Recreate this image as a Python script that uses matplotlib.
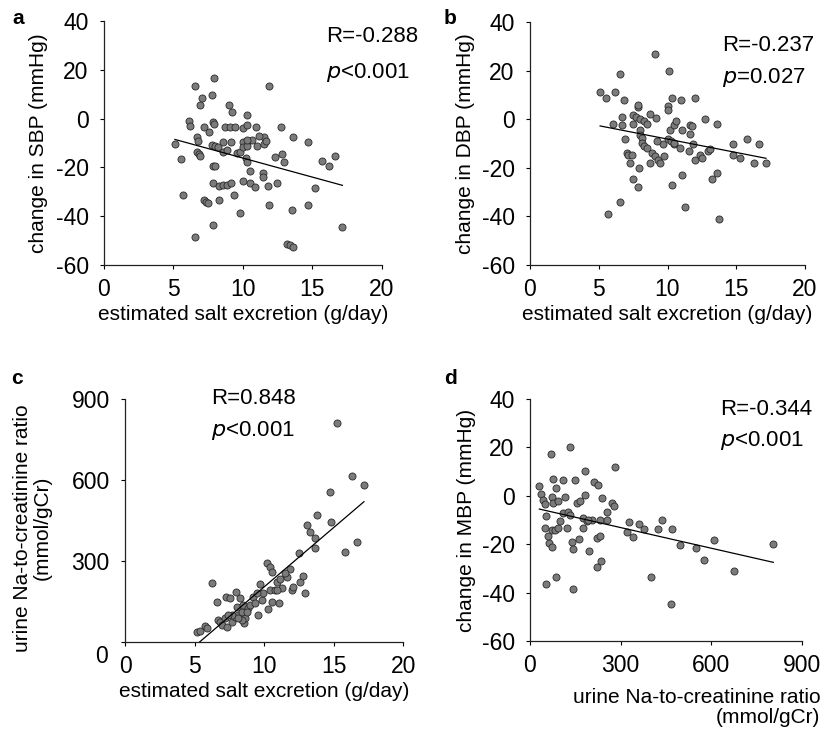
import matplotlib.pyplot as plt
import matplotlib.transforms as mtransforms
import numpy as np

plt.rcParams['font.family'] = ['Liberation Sans', 'DejaVu Sans']
plt.rcParams['axes.unicode_minus'] = False

# panel a: estimated salt excretion (g/day) vs change in SBP
salt_a = [5.11, 5.52, 5.71, 6.58, 6.1, 6.2, 6.91, 7.08, 6.72, 6.8, 6.72, 6.58, 6.87, 6.89,
          7.23, 7.56, 7.76, 7.92, 7.87, 7.95, 7.76, 8.0, 8.24, 8.6, 8.55, 7.82, 8.0, 7.17,
          7.34, 7.46, 8.28, 7.88, 7.88, 8.3, 8.6, 8.88, 9.17, 8.69, 9.08, 9.44, 9.03, 9.2,
          9.17, 9.56, 9.8, 9.39, 9.78, 10.04, 10.28, 10.28, 10.2, 10.28, 10.04, 10.4, 10.64,
          10.04, 10.28, 10.52, 10.04, 10.52, 10.88, 10.95, 11.0, 11.5, 11.55, 11.67, 11.43,
          11.48, 11.79, 11.86, 11.91, 12.32, 12.8, 12.99, 12.48, 12.73, 13.59, 13.2, 13.4,
          13.64, 13.52, 14.72, 14.72, 15.2, 15.73, 16.2, 16.64, 17.17, 8.83, 10.28, 11.19]
sbp_a = [-10.4, -16.4, -31.3, 13.5, -1.1, -3.0, 5.4, 8.6, -7.4, -9.0, -13.6, -48.4, -14.5, -15.2,
         -3.3, -5.5, 9.5, 16.5, -1.3, -2.2, -10.8, -11.2, -11.5, -9.5, -13.6, -19.4, -19.4, -33.4,
         -34.2, -34.7, -33.4, -43.5, -26.5, -27.5, -27.3, -27.1, -26.5, -3.3, -3.3, -3.3, 5.7, 2.6,
         -9.5, -14.0, -13.6, -31.4, -38.6, -4.0, -2.6, 1.5, -16.3, -17.7, -9.5, -9.2, -8.8,
         -11.8, -11.2, -21.5, -25.6, -26.3, -27.9, -3.3, -11.2, -10.5, -7.4, -9.2, -22.4,
         -23.8, -27.5, 13.4, -35.4, -15.6, -14.5, -17.7, -26.5, -3.3, -7.4, -51.5, -52.0,
         -52.5, -37.5, -35.4, -9.6, -28.6, -17.4, -19.4, -15.3, -44.6, -12.9, -8.6, -7.1]

# panel b: estimated salt excretion (g/day) vs change in DBP
salt_b = [5.1, 5.53, 6.19, 6.55, 6.84, 6.07, 6.7, 6.68, 6.89, 7.04, 7.16, 7.28, 7.4, 7.52,
          7.84, 7.91, 6.55, 5.7, 7.48, 7.72, 7.82, 7.89, 8.01, 8.3, 8.5, 7.48, 8.0, 8.0, 8.18,
          8.13, 8.3, 8.5, 8.74, 9.17, 8.74, 8.86, 9.1, 9.34, 9.47, 9.78, 9.08, 9.66, 10.02,
          10.0, 10.12, 10.32, 10.95, 12.03, 10.32, 11.07, 11.29, 10.07, 10.24, 10.44, 10.19,
          10.44, 10.63, 10.92, 11.04, 11.53, 11.65, 11.77, 11.84, 11.65, 12.01, 12.38, 12.5,
          12.74, 12.91, 13.06, 13.25, 13.59, 13.59, 13.71, 14.76, 14.76, 15.24, 15.78, 16.26,
          16.63, 17.16, 9.22, 10.44]
dbp_b = [11.1, 8.9, 11.1, 18.8, 8.0, -1.9, 1.0, -2.2, -8.0, -13.9, -14.8, -18.0, -14.8, -24.5,
         -28.0, -20.1, -33.9, -38.9, 1.9, 0.8, 4.9, 6.0, -0.1, -0.8, -1.9, -1.8, -4.3, -6.3, -7.7,
         -9.8, -10.9, -11.8, 2.2, 0.5, -18.0, -14.1, -15.2, -16.6, -18.0, -15.2, 26.9, -10.2, 5.4,
         3.6, 19.8, 8.9, 8.1, 8.9, -26.9, -22.9, -36.0, -8.0, -9.1, -10.4, -4.3,
         -2.2, -0.8, -11.8, -4.3, -13.2, -2.2, -2.9, -10.2, -6.0, -16.8, -14.8, -15.9,
         0.1, -12.9, -12.1, -24.6, -1.9, -22.1, -41.1, -10.2, -14.8, -15.9, -8.0, -18.0,
         -10.2, -18.0, -9.1, -9.8]

# panel c: estimated salt excretion (g/day) vs urine Na-to-creatinine ratio
salt_c = [5.15, 5.39, 5.75, 5.92, 6.28, 6.59, 6.71, 6.83, 6.95, 7.19, 7.26, 7.31, 7.54, 7.66,
          7.9, 7.98, 8.02, 8.14, 8.26, 8.38, 8.5, 8.55, 8.62, 8.86, 8.98, 9.22, 9.34, 9.58, 9.7,
          9.82, 9.94, 10.18, 10.42, 10.54, 10.3, 10.54, 10.42, 10.78, 11.09, 10.9, 11.14, 11.26,
          11.62, 11.86, 11.98, 12.1, 12.5, 12.57, 12.81, 12.93, 13.1, 13.29, 13.65, 13.65,
          13.77, 14.73, 14.78, 15.26, 15.81, 16.29, 16.65, 17.17, 7.66, 8.38, 8.74, 9.46,
          10.9, 11.5, 7.43, 8.14]
nacr_c = [39, 42, 62, 52, 221, 148, 83, 74, 64, 89, 166, 58, 163, 76,
          95, 187, 132, 101, 163, 113, 138, 70, 89, 126, 138, 169, 144, 101, 215,
          157, 181, 292, 280, 261, 123, 150, 194, 194, 144, 224, 233, 200,
          243, 271, 194, 206, 329, 224, 247, 181, 434, 409, 385, 348,
          471, 555, 444, 813, 335, 617, 372, 582, 101, 83, 113, 181,
          194, 255, 101, 89]

# panel d: urine Na-to-creatinine ratio vs change in MBP
nacr_d = [31, 35, 42, 50, 52, 50, 63, 72, 53, 68, 75, 86, 72, 77, 85, 72, 83, 93, 101, 110,
          116, 110, 126, 132, 132, 141, 138, 143, 149, 155, 161, 166, 182, 183, 177, 174, 188,
          196, 212, 226, 221, 232, 221, 234, 207, 232, 254, 240, 254, 270, 278, 281, 328, 320,
          342, 362, 377, 400, 425, 438, 466, 472, 497, 550, 576, 609, 677, 806, 61, 121, 193, 94]
mbp_d = [4.1, 0.7, -1.7, -3.4, -8.3, -13.1, -19.6, -21.2, -36.4, 17.2, 7.0, 3.4, -0.3, -3.0,
         -33.7, -14.0, -14.3, -13.4, -10.6, -7.2, -0.3, 6.6, -6.5, -7.9, 20.0, -38.7, -18.9,
         -22.0, 6.6, -3.0, -17.9, -2.3, 0.4, 10.3, -9.2, -13.4, -10.6, -22.7, 5.9, 4.5, -17.5,
         -16.8, -29.6, -27.1, -9.9, -9.9, -9.9, -1.0, -6.5, -3.0, -4.4, 11.8, -11.0, -15.0,
         -17.1, -11.7, -13.6, -33.7, -13.6, -9.8, -44.8, -13.6, -20.2, -21.6, -26.7, -18.3,
         -31.0, -20.0, -16.8, -13.4, -9.9, -2.3]

stats_r = ['R=-0.288', 'R=-0.237', 'R=0.848', 'R=-0.344']
stats_p = [('<', '0.001'), ('=', '0.027'), ('<', '0.001'), ('<', '0.001')]

W, H = 823, 744
fig = plt.figure(figsize=(W / 100, H / 100), dpi=100)


def px_axes(x0, y0, x1, y1):
    # pixel box (left, top, right, bottom) -> figure axes
    return fig.add_axes([x0 / W, 1 - y1 / H, (x1 - x0) / W, (y1 - y0) / H])


def style(ax):
    for s in ['top', 'right']:
        ax.spines[s].set_visible(False)
    for s in ['left', 'bottom']:
        ax.spines[s].set_linewidth(0.9)
        ax.spines[s].set_color('#222222')
    ax.tick_params(direction='out', length=3, width=0.8, labelsize=16.5)
    ax.tick_params(axis='y', pad=8)
    ax.tick_params(axis='x', pad=6)


def scatter_fit(ax, x, y):
    x = np.asarray(x)
    y = np.asarray(y)
    ax.scatter(x, y, s=26, c='#7b7b7b', edgecolors='#2a2a2a', linewidths=0.6, zorder=3)
    k, b = np.polyfit(x, y, 1)
    xs = np.array([x.min(), x.max()])
    ax.plot(xs, k * xs + b, color='black', lw=0.9, zorder=4)


def stats(ax, i, x, y1, y2):
    ax.text(x, y1, stats_r[i], transform=ax.transAxes, fontsize=16, va='center')
    op, val = stats_p[i]
    ax.text(x, y2, r'$\it{p}$' + op + val, transform=ax.transAxes, fontsize=16, va='center')


label_kw = dict(fontsize=15)

# a
ax = px_axes(104, 21, 381.7, 265)
scatter_fit(ax, salt_a, sbp_a)
ax.set_xlim(0, 20)
ax.set_ylim(-60, 40)
ax.set_xticks([0, 5, 10, 15, 20])
ax.set_yticks([-60, -40, -20, 0, 20, 40])
style(ax)
ax.set_xlabel('estimated salt excretion (g/day)', labelpad=3, **label_kw)
ax.set_ylabel('change in SBP (mmHg)', **label_kw)
ax.yaxis.set_label_coords(-0.2, 0.5)
stats(ax, 0, 0.80, 0.935, 0.79)

# b
ax = px_axes(530, 22, 805, 265)
scatter_fit(ax, salt_b, dbp_b)
ax.set_xlim(0, 20)
ax.set_ylim(-60, 40)
ax.set_xticks([0, 5, 10, 15, 20])
ax.set_yticks([-60, -40, -20, 0, 20, 40])
style(ax)
ax.set_xlabel('estimated salt excretion (g/day)', labelpad=3, **label_kw)
ax.set_ylabel('change in DBP (mmHg)', **label_kw)
ax.yaxis.set_label_coords(-0.2, 0.5)
stats(ax, 1, 0.70, 0.905, 0.77)

# c
ax = px_axes(125, 399, 403.3, 642.3)
scatter_fit(ax, salt_c, nacr_c)
ax.set_xlim(0, 20)
ax.set_ylim(0, 900)
ax.set_xticks([0, 5, 10, 15, 20])
ax.set_yticks([0, 300, 600, 900])
style(ax)
# the y "0" sits a little below the axis corner, as in the original
ylab0 = ax.yaxis.get_major_ticks()[0].label1
ylab0.set_transform(ylab0.get_transform() +
                    mtransforms.ScaledTranslation(-2 / 100, -12 / 100, fig.dpi_scale_trans))
ax.set_xlabel('estimated salt excretion (g/day)', labelpad=3, **label_kw)
ax.set_ylabel('urine Na-to-creatinine ratio\n(mmol/gCr)', linespacing=1.0, **label_kw)
ax.yaxis.set_label_coords(-0.265, 0.47)
stats(ax, 2, 0.31, 1.0, 0.87)

# d
ax = px_axes(530, 399, 801.7, 641)
scatter_fit(ax, nacr_d, mbp_d)
ax.set_xlim(0, 900)
ax.set_ylim(-60, 40)
ax.set_xticks([0, 300, 600, 900])
ax.set_yticks([-60, -40, -20, 0, 20, 40])
style(ax)
ax.set_xlabel('urine Na-to-creatinine ratio\n(mmol/gCr)', ha='right', ma='right',
              linespacing=1.05, **label_kw)
ax.xaxis.set_label_coords(1.068, -0.195)
ax.set_ylabel('change in MBP (mmHg)', **label_kw)
ax.yaxis.set_label_coords(-0.2, 0.5)
stats(ax, 3, 0.70, 0.955, 0.83)

for lab, (x, y) in zip('abcd', [(18, 18), (450, 18), (17, 378), (450, 378)]):
    fig.text(x / W, 1 - y / H, lab, fontsize=15, fontweight='bold', ha='center', va='center')

fig.savefig('out.png', dpi=100)
